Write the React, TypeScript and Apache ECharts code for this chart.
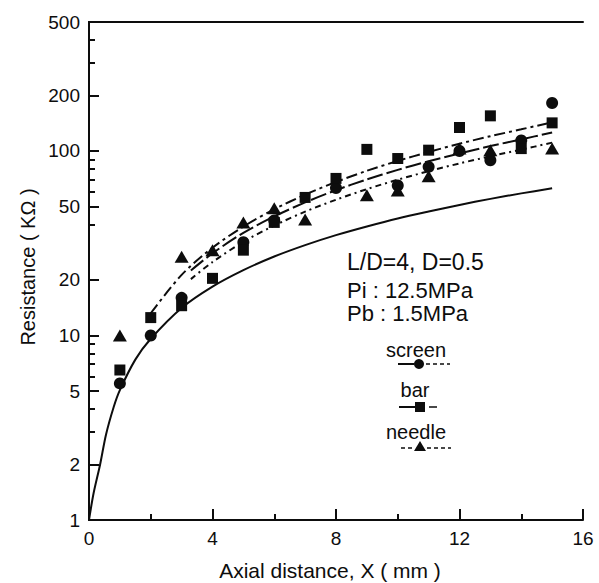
import React, { useEffect, useRef } from "react";
import * as echarts from "echarts";

// ---- tick values ----
const xTickLabels = [0, 4, 8, 12, 16];
const xMinorTicks = [2, 6, 10, 14];
const yTickLabels = [1, 2, 5, 10, 20, 50, 100, 200, 500];
const yMinorTicks = [3, 4, 6, 7, 8, 9, 40, 60, 70, 80, 90, 300, 400];

// ---- measured points ----
const screenX = [1, 2, 3, 5, 6, 8, 10, 11, 12, 13, 14, 15];
const screenY = [5.5, 10, 16, 32, 42, 63, 65, 82, 100, 89, 114, 182];
const barX = [1, 2, 3, 4, 5, 6, 7, 8, 9, 10, 11, 12, 13, 14, 15];
const barY = [6.5, 12.5, 14.5, 20.4, 29, 41, 56, 71, 102, 91, 101, 134, 155, 103, 142];
const needleX = [1, 3, 4, 5, 6, 7, 9, 10, 11, 12, 13, 15];
const needleY = [10, 26.7, 29, 41, 49, 42.5, 57.5, 61, 73, 103, 101, 103];

// ---- curves ----
const baseCurveX = [0, 0.15, 0.36, 0.55, 0.8, 1, 1.5, 2, 3, 4, 5, 6, 7, 8, 9, 10, 11, 12, 13, 14, 15];
const baseCurveY = [1, 1.4, 2.0, 2.9, 4.1, 5.06, 7.4, 9.6, 14.1, 18.4, 22.6, 26.8, 30.9, 35, 39, 43.1, 47, 51, 55, 58.9, 62.8];
const barCurveX = [2, 3, 4, 5, 6, 7, 8, 9, 10, 11, 12, 13, 14, 15];
const barCurveY = [13.2, 21.3, 29.9, 38.9, 48.3, 58, 67.9, 78.1, 88.3, 98.8, 109.4, 120.3, 131, 143];
const screenCurveX = [3.3, 4, 5, 6, 7, 8, 9, 10, 11, 12, 13, 14, 15];
const screenCurveY = [22.5, 27.9, 36, 44.2, 52.6, 61.3, 70.1, 79, 88, 96.9, 106.3, 115.6, 126];
const needleCurveX = [3.3, 4, 5, 6, 7, 8, 9, 10, 11, 12, 13, 14, 15];
const needleCurveY = [20.2, 25, 32.2, 39.4, 46.9, 54.4, 62.1, 69.9, 77.7, 85.6, 93.6, 101.7, 111];

const zip = (xs: number[], ys: number[]) => xs.map((x, i) => [x, ys[i]]);

const INK = "#0d0d0d";
const FONT = "'Liberation Sans', Arial, Helvetica, sans-serif";

export default function App() {
  const ref = useRef<HTMLDivElement>(null);
  useEffect(() => {
    if (!ref.current) return;
    const chart = echarts.init(ref.current, undefined, { renderer: "svg" });
    const axisLine = { show: true, lineStyle: { color: INK, width: 2 } };
    const noTick = { show: false };
    const noLabel = { show: false };
    const option: any = {
      animation: false,
      backgroundColor: "#fff",
      grid: { left: 89, right: 16, top: 22, bottom: 63, containLabel: false },
      xAxis: [
        {
          type: "value",
          min: 0,
          max: 16,
          position: "bottom",
          axisLine,
          splitLine: { show: false },
          axisTick: { show: true, inside: true, length: 11, customValues: xTickLabels, lineStyle: { color: INK, width: 2 } },
          axisLabel: { show: true, customValues: xTickLabels, margin: 9, fontSize: 19, color: INK, fontFamily: FONT },
        },
        {
          type: "value",
          min: 0,
          max: 16,
          position: "bottom",
          axisLine: { show: false },
          splitLine: { show: false },
          axisTick: { show: true, inside: true, length: 6, customValues: xMinorTicks, lineStyle: { color: INK, width: 2 } },
          axisLabel: noLabel,
        },
        {
          type: "value",
          min: 0,
          max: 16,
          position: "top",
          axisLine,
          splitLine: { show: false },
          axisTick: noTick,
          axisLabel: noLabel,
        },
      ],
      yAxis: [
        {
          type: "log",
          logBase: 10,
          min: 1,
          max: 500,
          position: "left",
          axisLine,
          splitLine: { show: false },
          minorTick: { show: false },
          axisTick: { show: true, inside: true, length: 10, customValues: yTickLabels, lineStyle: { color: INK, width: 2 } },
          axisLabel: { show: true, customValues: yTickLabels, margin: 9, fontSize: 19, color: INK, fontFamily: FONT },
        },
        {
          type: "log",
          logBase: 10,
          min: 1,
          max: 500,
          position: "left",
          axisLine: { show: false },
          splitLine: { show: false },
          axisTick: { show: true, inside: true, length: 6, customValues: yMinorTicks, lineStyle: { color: INK, width: 2 } },
          axisLabel: noLabel,
        },
        {
          type: "log",
          logBase: 10,
          min: 1,
          max: 500,
          position: "right",
          axisLine,
          splitLine: { show: false },
          axisTick: noTick,
          axisLabel: noLabel,
        },
      ],
      series: [
        {
          type: "line",
          data: zip(baseCurveX, baseCurveY),
          smooth: 0.3,
          showSymbol: false,
          symbol: "none",
          lineStyle: { color: INK, width: 2 },
          z: 2,
        },
        {
          name: "bar fit",
          type: "line",
          data: zip(barCurveX, barCurveY),
          smooth: 0.3,
          symbol: "none",
          lineStyle: { color: INK, width: 2, type: [11, 4, 3, 4] },
          z: 2,
        },
        {
          name: "screen fit",
          type: "line",
          data: zip(screenCurveX, screenCurveY),
          smooth: 0.3,
          symbol: "none",
          lineStyle: { color: INK, width: 2, type: [16, 4] },
          z: 2,
        },
        {
          name: "needle fit",
          type: "line",
          data: zip(needleCurveX, needleCurveY),
          smooth: 0.3,
          symbol: "none",
          lineStyle: { color: INK, width: 2, type: [6, 4, 2, 4] },
          z: 2,
        },
        {
          name: "screen",
          type: "scatter",
          data: zip(screenX, screenY),
          symbol: "circle",
          symbolSize: 12,
          itemStyle: { color: INK, opacity: 1 },
          z: 3,
        },
        {
          name: "bar",
          type: "scatter",
          data: zip(barX, barY),
          symbol: "rect",
          symbolSize: 11,
          itemStyle: { color: INK, opacity: 1 },
          z: 3,
        },
        {
          name: "needle",
          type: "scatter",
          data: zip(needleX, needleY),
          symbol: "triangle",
          symbolSize: [14, 12],
          itemStyle: { color: INK, opacity: 1 },
          z: 3,
        },
      ],
      graphic: [
        { type: "text", x: 28, y: 267, rotation: Math.PI / 2, style: { text: "Resistance ( KΩ )", fill: INK, font: `20px ${FONT}`, textAlign: "center", textVerticalAlign: "middle" } },
        { type: "text", x: 330, y: 570, style: { text: "Axial distance, X ( mm )", fill: INK, font: `21px ${FONT}`, textAlign: "center", textVerticalAlign: "middle" } },
        { type: "text", x: 347, y: 262, style: { text: "L/D=4, D=0.5", fill: INK, font: `23px ${FONT}`, textAlign: "left", textVerticalAlign: "middle" } },
        { type: "text", x: 347, y: 290, style: { text: "Pi : 12.5MPa", fill: INK, font: `22px ${FONT}`, textAlign: "left", textVerticalAlign: "middle" } },
        { type: "text", x: 347, y: 313, style: { text: "Pb : 1.5MPa", fill: INK, font: `22px ${FONT}`, textAlign: "left", textVerticalAlign: "middle" } },
        { type: "text", x: 416, y: 350, style: { text: "screen", fill: INK, font: `20px ${FONT}`, textAlign: "center", textVerticalAlign: "middle" } },
        { type: "line", shape: { x1: 398, y1: 364, x2: 414, y2: 364 }, style: { stroke: INK, lineWidth: 2 } },
        { type: "circle", shape: { cx: 419, cy: 364, r: 5 }, style: { fill: INK } },
        { type: "line", shape: { x1: 426, y1: 364, x2: 450, y2: 364 }, style: { stroke: INK, lineWidth: 1.5, lineDash: [4, 3] } },
        { type: "text", x: 415, y: 390, style: { text: "bar", fill: INK, font: `20px ${FONT}`, textAlign: "center", textVerticalAlign: "middle" } },
        { type: "line", shape: { x1: 399, y1: 407, x2: 415, y2: 407 }, style: { stroke: INK, lineWidth: 2 } },
        { type: "rect", shape: { x: 415, y: 402, width: 10, height: 10 }, style: { fill: INK } },
        { type: "line", shape: { x1: 429, y1: 407, x2: 437, y2: 407 }, style: { stroke: INK, lineWidth: 1.5 } },
        { type: "text", x: 416, y: 432, style: { text: "needle", fill: INK, font: `20px ${FONT}`, textAlign: "center", textVerticalAlign: "middle" } },
        { type: "line", shape: { x1: 401, y1: 448, x2: 414, y2: 448 }, style: { stroke: INK, lineWidth: 1.5, lineDash: [4, 3] } },
        { type: "polygon", shape: { points: [[420, 441], [426, 451], [414, 451]] }, style: { fill: INK } },
        { type: "line", shape: { x1: 427, y1: 448, x2: 451, y2: 448 }, style: { stroke: INK, lineWidth: 1.5, lineDash: [4, 3] } },
      ],
    };
    chart.setOption(option);
    return () => chart.dispose();
  }, []);
  return (
    <div
      ref={ref}
      style={{ position: "fixed", left: 0, top: 0, width: 599, height: 583, background: "#fff" }}
    />
  );
}
